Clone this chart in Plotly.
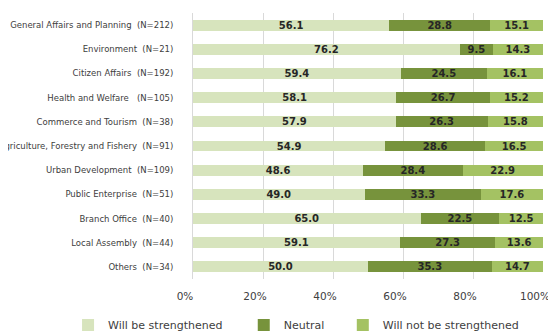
import plotly.graph_objects as go

categories = [
    "General Affairs and Planning  (N=212)",
    "Environment  (N=21)",
    "Citizen Affairs  (N=192)",
    "Health and Welfare   (N=105)",
    "Commerce and Tourism  (N=38)",
    "Agriculture, Forestry and Fishery  (N=91)",
    "Urban Development  (N=109)",
    "Public Enterprise  (N=51)",
    "Branch Office  (N=40)",
    "Local Assembly  (N=44)",
    "Others  (N=34)",
]
strengthened = [56.1, 76.2, 59.4, 58.1, 57.9, 54.9, 48.6, 49.0, 65.0, 59.1, 50.0]
neutral = [28.8, 9.5, 24.5, 26.7, 26.3, 28.6, 28.4, 33.3, 22.5, 27.3, 35.3]
not_strengthened = [15.1, 14.3, 16.1, 15.2, 15.8, 16.5, 22.9, 17.6, 12.5, 13.6, 14.7]
series_names = ["Will be strengthened", "Neutral", "Will not be strengthened"]
colors = ["#d7e4bd", "#77933c", "#a4c263"]
x_ticks = [0, 20, 40, 60, 80, 100]

legend_ids = ["legend", "legend2", "legend3"]
legend_x = [-0.357, 0.145, 0.428]

fig = go.Figure()
for name, vals, col, lid in zip(series_names, [strengthened, neutral, not_strengthened], colors, legend_ids):
    fig.add_trace(go.Bar(
        y=categories, x=vals, name=name, orientation="h",
        marker=dict(color=col, line=dict(width=0)),
        text=[f"{v:.1f}" for v in vals], textposition="inside",
        insidetextanchor="middle",
        textfont=dict(family="DejaVu Sans", size=10, color="#262626", weight="bold"),
        constraintext="none", legend=lid,
    ))

leg_common = dict(orientation="h", xanchor="left", y=-0.173, yanchor="middle",
                  font=dict(size=11, color="#404040"), bgcolor="rgba(0,0,0,0)")
fig.update_layout(
    width=548, height=324,
    margin=dict(l=185, r=13, t=5, b=53, autoexpand=False),
    barmode="stack", bargap=0.55,
    plot_bgcolor="white", paper_bgcolor="white",
    font=dict(family="DejaVu Sans", color="#404040"),
    showlegend=True,
    legend=dict(x=legend_x[0], **leg_common),
    legend2=dict(x=legend_x[1], **leg_common),
    legend3=dict(x=legend_x[2], **leg_common),
)
fig.update_xaxes(range=[0, 100], tickvals=x_ticks, ticktext=[f"{t}%" for t in x_ticks],
                 showgrid=True, gridcolor="#d9d9d9", gridwidth=1, zeroline=False,
                 tickfont=dict(size=10.5, color="#404040"), fixedrange=True,
                 showline=False, automargin=False, ticklabelstandoff=9,
                 ticklabeloverflow="allow", ticklabelshift=-8)
fig.update_yaxes(autorange="reversed", showgrid=False, showline=True, linecolor="#d9d9d9",
                 tickfont=dict(size=8.5, color="#404040"), ticklabelstandoff=17,
                 automargin=False, ticklabeloverflow="allow")

fig.write_html("out.html")
